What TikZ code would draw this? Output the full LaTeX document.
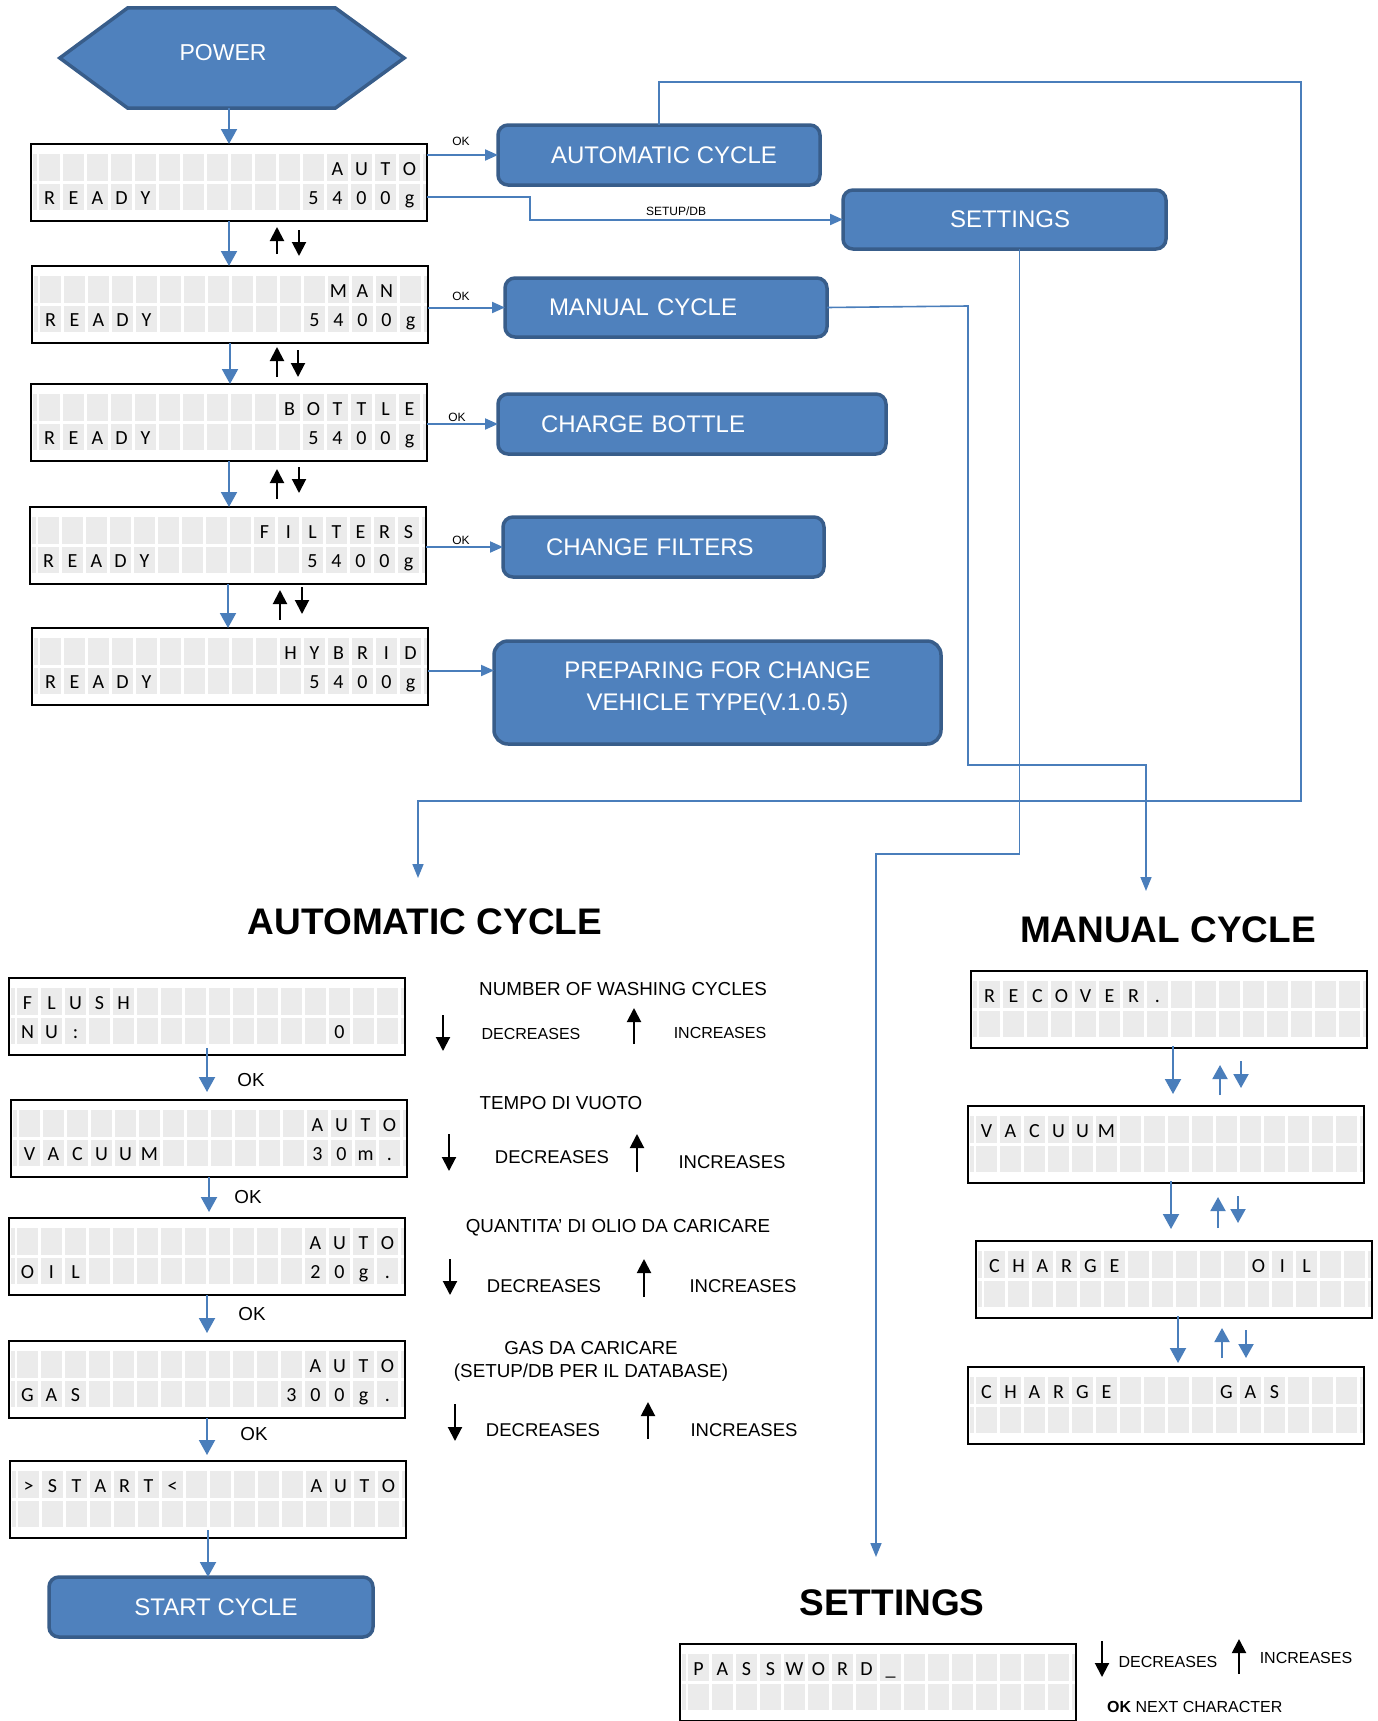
\documentclass[tikz,border=0pt]{standalone}
\usepackage{fontspec}
\setmainfont{Liberation Sans}
\newfontfamily\lcdfont{Carlito}
\usetikzlibrary{arrows.meta,calc}
\definecolor{boxblue}{HTML}{4F81BD}
\definecolor{boxedge}{HTML}{385D8A}
\definecolor{lineblue}{HTML}{4A7EBB}
\definecolor{cellgray}{HTML}{EBEBEB}
\tikzset{
  lcdframe/.style={draw=black, line width=2.5pt, fill=white, minimum width=396pt, minimum height=77pt, inner sep=0pt, outer sep=0pt, anchor=north west},
  lcdchar/.style={anchor=base, inner sep=0pt, font=\lcdfont\fontsize{20}{20}\selectfont},
  bluebox/.style={draw=boxedge, fill=boxblue, line width=3.5pt, rounded corners=10pt, text=white, font=\fontsize{24}{28}\selectfont, inner sep=0pt, outer sep=0pt},
  hexshape/.style={draw=boxedge, fill=boxblue, line width=3.5pt},
  flowarrow/.style={draw=lineblue, line width=2pt, -{Triangle[width=16pt,length=15pt]}},
  okarrow/.style={draw=lineblue, line width=2pt, -{Triangle[width=11pt,length=13pt]}},
  conn/.style={draw=lineblue, line width=1.6pt, -{Triangle[width=11pt,length=14pt]}},
  keyarrow/.style={draw=black, line width=2pt, -{Triangle[width=14pt,length=14pt]}},
  smallblue/.style={draw=lineblue, line width=2pt, -{Triangle[width=15pt,length=14pt]}},
  oklabel/.style={font=\fontsize{12}{14}\selectfont, inner sep=0pt},
  hint/.style={font=\fontsize{18.8}{22}\selectfont, inner sep=0pt},
  keymid/.style={font=\fontsize{18.5}{22}\selectfont, inner sep=0pt},
  keytext/.style={font=\fontsize{16}{19}\selectfont, inner sep=0pt},
  heading/.style={font=\bfseries\fontsize{37}{42}\selectfont, inner sep=0pt},
}
\newcommand\lcdpanel[4]{%
  \node[lcdframe] (#1) at (#2,#3) {};
  \foreach \kk in {0,...,15}{%
    \fill[cellgray] ({#2+8+24*\kk},{#3+10}) rectangle ++(21,27);
    \fill[cellgray] ({#2+8+24*\kk},{#3+40}) rectangle ++(21,26);
  }
  \fill[cellgray] ({#2+2},{#3+10}) rectangle ++(3.5,27);
  \fill[cellgray] ({#2+2},{#3+40}) rectangle ++(3.5,26);
  \fill[cellgray] ({#2+392},{#3+10}) rectangle ++(2.5,27);
  \fill[cellgray] ({#2+392},{#3+40}) rectangle ++(2.5,26);
  \foreach \rw/\kk/\ch in {#4}{%
    \node[lcdchar] at ({#2+18.5+24*(\kk-1)},{#3+2+29*\rw}) {\ch};
  }
}
\begin{document}
\begin{tikzpicture}[x=1pt,y=-1pt]
\fill[white] (0,0) rectangle (1378,1721);
\useasboundingbox (0,0) rectangle (1378,1721);

% POWER hexagon
\node[inner sep=0pt, minimum width=344pt, minimum height=100pt] (power) at (232,58) {};
\filldraw[hexshape] (power.west) -- ($(power.north west)+(68,0)$) -- ($(power.north east)+(-69,0)$) -- (power.east) -- ($(power.south east)+(-69,0)$) -- ($(power.south west)+(68,0)$) -- cycle;
\node[text=white, font=\fontsize{23}{27}\selectfont, inner sep=0pt] (powerlabel) at (223,53) {POWER};

% left LCD column
\lcdpanel{lcdA}{31}{144}{1/13/A,1/14/U,1/15/T,1/16/O,2/1/R,2/2/E,2/3/A,2/4/D,2/5/Y,2/12/5,2/13/4,2/14/0,2/15/0,2/16/g}
\lcdpanel{lcdM}{32}{266}{1/13/M,1/14/A,1/15/N,2/1/R,2/2/E,2/3/A,2/4/D,2/5/Y,2/12/5,2/13/4,2/14/0,2/15/0,2/16/g}
\lcdpanel{lcdB}{31}{384}{1/11/B,1/12/O,1/13/T,1/14/T,1/15/L,1/16/E,2/1/R,2/2/E,2/3/A,2/4/D,2/5/Y,2/12/5,2/13/4,2/14/0,2/15/0,2/16/g}
\lcdpanel{lcdF}{30}{507}{1/10/F,1/11/I,1/12/L,1/13/T,1/14/E,1/15/R,1/16/S,2/1/R,2/2/E,2/3/A,2/4/D,2/5/Y,2/12/5,2/13/4,2/14/0,2/15/0,2/16/g}
\lcdpanel{lcdH}{32}{628}{1/11/H,1/12/Y,1/13/B,1/14/R,1/15/I,1/16/D,2/1/R,2/2/E,2/3/A,2/4/D,2/5/Y,2/12/5,2/13/4,2/14/0,2/15/0,2/16/g}

% blue boxes
\node[bluebox, minimum width=322pt, minimum height=60pt] (autoC) at (659,155) {\hspace*{10pt}AUTOMATIC CYCLE};
\node[bluebox, minimum width=323pt, minimum height=59pt] (set) at (1004.5,219.5) {\hspace*{11pt}SETTINGS};
\node[bluebox, minimum height=59pt, text width=234pt, inner xsep=44pt, align=left] (manC) at (666,307.5) {MANUAL CYCLE};
\node[bluebox, minimum height=60pt, text width=302pt, inner xsep=43pt, align=left] (chB) at (692,424) {CHARGE BOTTLE};
\node[bluebox, minimum height=60pt, text width=235pt, inner xsep=43pt, align=left] (chF) at (663.5,547) {CHANGE FILTERS};
\node[bluebox, minimum width=447pt, minimum height=103pt, rounded corners=14pt, align=center] (prep) at (717.5,692.5) {PREPARING FOR CHANGE\\[4pt]VEHICLE TYPE(V.1.0.5)\rule[-12pt]{0pt}{12pt}};

% down arrows left column
\draw[flowarrow] (power.south -| lcdA.north) -- (lcdA.north);
\draw[flowarrow] (lcdA.south) -- (lcdA.south |- lcdM.north);
\draw[flowarrow] (lcdM.south) -- (lcdM.south |- lcdB.north);
\draw[flowarrow] (lcdB.south) -- (lcdB.south |- lcdF.north);
\draw[flowarrow] (lcdF.south) -- (lcdF.south |- lcdH.north);

% up/down key icons
\draw[keyarrow] (277,254) -- (277,227); \draw[keyarrow] (299,230) -- (299,256);
\draw[keyarrow] (277,377) -- (277,347); \draw[keyarrow] (298,350) -- (298,377);
\draw[keyarrow] (277,499) -- (277,469); \draw[keyarrow] (299,467) -- (299,493);
\draw[keyarrow] (280,620) -- (280,590); \draw[keyarrow] (302,587) -- (302,614);

% OK arrows to the right
\draw[okarrow] (lcdA.north east |- autoC.west) -- (autoC.west);
\node[oklabel] (ok1) at (461,141) {OK};
\draw[okarrow] ($(lcdA.north east)+(0,53)$) -- ++(103,0) |- (set.west);
\node[oklabel] (setupdb) at (676,211) {SETUP/DB};
\draw[okarrow] (lcdM.north east |- manC.west) -- (manC.west);
\node[oklabel] (ok2) at (461,296) {OK};
\draw[okarrow] (lcdB.north east |- chB.west) -- (chB.west);
\node[oklabel] (ok3) at (457,417) {OK};
\draw[okarrow] (lcdF.north east |- chF.west) -- (chF.west);
\node[oklabel] (ok4) at (461,540) {OK};
\coordinate (prepIn) at ($(prep.west)+(0,-22)$);
\draw[okarrow] (lcdH.north east |- prepIn) -- (prepIn);

% long connectors
\coordinate (autoEnd) at (418,878);
\draw[conn] (autoC.north) |- (1301,82) -- (1301,801) -| (autoEnd);
\coordinate (manEnd) at (1146,891);
\draw[conn] (manC.east) -- (968,306) -- (968,765) -| (manEnd);
\coordinate (setEnd) at (876,1557);
\draw[conn] ($(set.south)+(15,0)$) -- ++(0,605) -| (setEnd);

% headings
\node[heading] (hAuto) at (425,922) {AUTOMATIC CYCLE};
\node[heading] (hMan) at (1168,930) {MANUAL CYCLE};
\node[heading] (hSet) at (892,1603) {SETTINGS};

% automatic cycle column
\lcdpanel{lcdFl}{9}{978}{1/1/F,1/2/L,1/3/U,1/4/S,1/5/H,2/1/N,2/2/U,2/3/:,2/14/0}
\lcdpanel{lcdV}{11}{1100}{1/13/A,1/14/U,1/15/T,1/16/O,2/1/V,2/2/A,2/3/C,2/4/U,2/5/U,2/6/M,2/13/3,2/14/0,2/15/m,2/16/.}
\lcdpanel{lcdO}{9}{1218}{1/13/A,1/14/U,1/15/T,1/16/O,2/1/O,2/2/I,2/3/L,2/13/2,2/14/0,2/15/g,2/16/.}
\lcdpanel{lcdG}{9}{1341}{1/13/A,1/14/U,1/15/T,1/16/O,2/1/G,2/2/A,2/3/S,2/12/3,2/13/0,2/14/0,2/15/g,2/16/.}
\lcdpanel{lcdS}{10}{1461}{1/1/>,1/2/S,1/3/T,1/4/A,1/5/R,1/6/T,1/7/<,1/13/A,1/14/U,1/15/T,1/16/O}
\node[bluebox, minimum width=324pt, minimum height=60pt] (startC) at (211,1607) {\hspace*{10pt}START CYCLE};

\draw[flowarrow, shorten >=8pt] ($(lcdFl.south)+(0,-7)$) coordinate (t1) -- (t1 |- lcdV.north);
\draw[flowarrow, shorten >=6pt] (lcdV.south) -- (lcdV.south |- lcdO.north);
\draw[flowarrow, shorten >=8pt] (lcdO.south) -- (lcdO.south |- lcdG.north);
\draw[flowarrow, shorten >=6pt] (lcdG.south) -- (lcdG.south |- lcdS.north);
\draw[flowarrow] ($(lcdS.south)+(0,-8)$) coordinate (t5) -- (t5 |- startC.north);
\node[hint] (okA) at (251,1080) {OK};
\node[hint] (okB) at (248,1197) {OK};
\node[hint] (okC) at (252,1314) {OK};
\node[hint] (okD) at (254,1434) {OK};

% hints automatic
\node[hint] (n1) at (623,989) {NUMBER OF WASHING CYCLES};
\draw[keyarrow] (443,1015) -- (443,1051);
\node[keytext] (d1) at (531,1034) {DECREASES};
\draw[keyarrow] (634,1044) -- (634,1008);
\node[keytext] (i1) at (720,1033) {INCREASES};

\node[hint] (n2) at (561,1103) {TEMPO DI VUOTO};
\draw[keyarrow] (449,1134) -- (449,1171);
\node[keymid] (d2) at (552,1157) {DECREASES};
\draw[keyarrow] (637,1172) -- (637,1134);
\node[keymid] (i2) at (732,1162) {INCREASES};

\node[hint] (n3) at (618,1228) {QUANTITA’ DI OLIO DA CARICARE};
\draw[keyarrow] (450,1259) -- (450,1295);
\node[keymid] (d3) at (544,1286) {DECREASES};
\draw[keyarrow] (644,1297) -- (644,1259);
\node[keymid] (i3) at (743,1286) {INCREASES};

\node[hint] (n4) at (591,1348) {GAS DA CARICARE};
\node[hint] (n5) at (591,1373) {(SETUP/DB PER IL DATABASE)};
\draw[keyarrow] (455,1404) -- (455,1441);
\node[keymid] (d4) at (543,1430) {DECREASES};
\draw[keyarrow] (648,1439) -- (648,1402);
\node[keymid] (i4) at (744,1430) {INCREASES};

% manual cycle column
\lcdpanel{lcdR}{971}{971}{1/1/R,1/2/E,1/3/C,1/4/O,1/5/V,1/6/E,1/7/R,1/8/.}
\lcdpanel{lcdMV}{968}{1106}{1/1/V,1/2/A,1/3/C,1/4/U,1/5/U,1/6/M}
\lcdpanel{lcdCO}{976}{1241}{1/1/C,1/2/H,1/3/A,1/4/R,1/5/G,1/6/E,1/12/O,1/13/I,1/14/L}
\lcdpanel{lcdCG}{968}{1367}{1/1/C,1/2/H,1/3/A,1/4/R,1/5/G,1/6/E,1/11/G,1/12/A,1/13/S}

\draw[flowarrow, shorten >=12pt] ($(lcdR.south)+(4,-2)$) coordinate (m1) -- (m1 |- lcdMV.north);
\draw[flowarrow, shorten >=12pt] ($(lcdMV.south)+(5,-2)$) coordinate (m2) -- (m2 |- lcdCO.north);
\draw[flowarrow, shorten >=4pt] ($(lcdCO.south)+(4,-2)$) coordinate (m3) -- (m3 |- lcdCG.north);
\draw[smallblue] (1220,1095) -- (1220,1065); \draw[smallblue] (1241,1061) -- (1241,1088);
\draw[smallblue] (1218,1228) -- (1218,1197); \draw[smallblue] (1238,1196) -- (1238,1223);
\draw[smallblue] (1222,1358) -- (1222,1328); \draw[smallblue] (1246,1330) -- (1246,1358);

% settings
\lcdpanel{lcdP}{680}{1644}{1/1/P,1/2/A,1/3/S,1/4/S,1/5/W,1/6/O,1/7/R,1/8/D,1/9/\_}
\draw[keyarrow] (1102,1641) -- (1102,1677);
\node[keytext] (d5) at (1168,1662) {DECREASES};
\draw[keyarrow] (1239,1674) -- (1239,1639);
\node[keytext] (i5) at (1306,1658) {INCREASES};
\node[keytext, anchor=west] (nextc) at (1107,1707) {\textbf{OK} NEXT CHARACTER};
\end{tikzpicture}
\end{document}
